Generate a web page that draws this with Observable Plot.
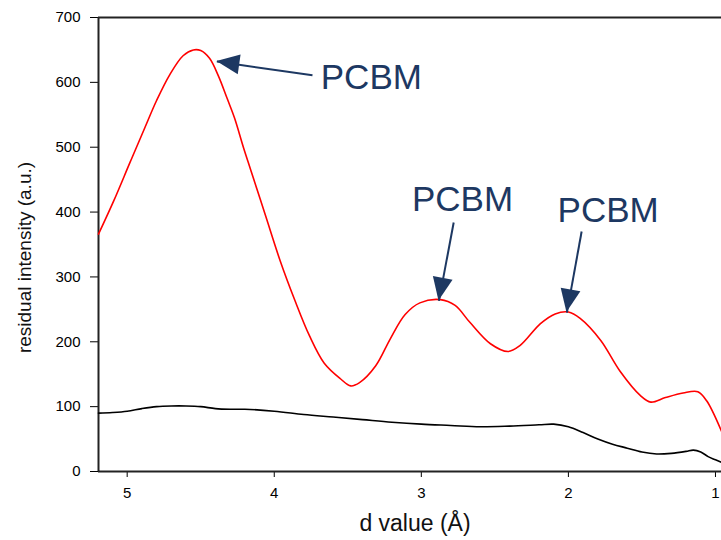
<!DOCTYPE html>
<html>
<head>
<meta charset="utf-8">
<script src="https://cdn.jsdelivr.net/npm/d3@7"></script>
<script src="https://cdn.jsdelivr.net/npm/@observablehq/plot@0.6"></script>
<style>
  html, body { margin: 0; padding: 0; background: #fff; }
  #chart svg { display: block; }
</style>
</head>
<body>
<div id="chart"></div>
<script>
// ---- data ----
const redD = [5.195, 5.09, 4.98, 4.88, 4.80, 4.71, 4.62, 4.55, 4.50, 4.44, 4.38, 4.32, 4.27, 4.21, 4.16, 4.06, 3.96, 3.86, 3.76, 3.66, 3.55, 3.48, 3.42, 3.31, 3.21, 3.11, 3.01, 2.87, 2.77, 2.67, 2.53, 2.41, 2.33, 2.19, 2.09, 2.00, 1.92, 1.78, 1.65, 1.51, 1.44, 1.34, 1.22, 1.12, 1.06, 0.959];
const redI = [366, 418, 477, 530, 572, 612, 641, 650, 649, 637, 610, 575, 545, 500, 465, 395, 325, 264, 209, 167, 143, 132, 137, 163, 205, 242, 260, 265, 256, 230, 197, 185, 194, 228, 243, 246, 236, 202, 155, 117, 107, 114, 121, 123, 109, 62];

const blackD = [5.195, 5.1, 5.0, 4.9, 4.8, 4.7, 4.6, 4.5, 4.4, 4.3, 4.2, 4.0, 3.8, 3.6, 3.4, 3.2, 3.0, 2.8, 2.6, 2.4, 2.2, 2.1, 2.0, 1.9, 1.8, 1.7, 1.6, 1.5, 1.4, 1.3, 1.2, 1.15, 1.1, 1.05, 1.0, 0.959];
const blackI = [90, 91, 93, 97, 100, 101, 101, 100, 97, 96, 96, 93, 88, 84, 80, 76, 73, 71, 69, 70, 72, 73, 69, 60, 50, 42, 36, 30, 27, 28, 31, 33, 30, 23, 18, 14];

const xTicks = [5, 4, 3, 2, 1];
const yTicks = [0, 100, 200, 300, 400, 500, 600, 700];
const xDomain = [5.195, 0.959];
const yDomain = [0, 700];

const xLabel = "d value (Å)";
const yLabel = "residual intensity (a.u.)";

// annotations
const noteText = ["PCBM", "PCBM", "PCBM"];
const noteX = [3.34, 2.72, 1.73];
const noteY = [607, 419, 402];
const arrowFromX = [3.74, 2.78, 1.91];
const arrowFromY = [611, 384, 370];
const arrowToX = [4.39, 2.88, 2.01];
const arrowToY = [632, 263, 245];

// ---- tables built from the arrays ----
const red = redD.map((d, i) => ({d, v: redI[i]}));
const black = blackD.map((d, i) => ({d, v: blackI[i]}));
const notes = noteText.map((t, i) => ({t, x: noteX[i], y: noteY[i]}));
const arrows = arrowFromX.map((x1, i) => ({x1, y1: arrowFromY[i], x2: arrowToX[i], y2: arrowToY[i]}));

const navy = "#1d3862";
const font = "'Liberation Sans', Arial, Helvetica, sans-serif";

function arrowHeads(index, scales) {
  const g = d3.create("svg:g").attr("aria-label", "arrow heads");
  const sx = scales.x, sy = scales.y;
  const L = 23, hw = 10;
  arrows.forEach(a => {
    const x1 = sx(a.x1), y1 = sy(a.y1), x2 = sx(a.x2), y2 = sy(a.y2);
    const len = Math.hypot(x2 - x1, y2 - y1);
    const ux = (x2 - x1) / len, uy = (y2 - y1) / len;
    const bx = x2 - ux * L, by = y2 - uy * L;
    const nx = -uy, ny = ux;
    g.append("path")
      .attr("d", `M${x2},${y2}L${bx + nx * hw},${by + ny * hw}L${bx - nx * hw},${by - ny * hw}Z`)
      .attr("fill", navy);
  });
  return g.node();
}

const chart = Plot.plot({
  width: 721,
  height: 540,
  marginLeft: 98,
  marginRight: 0,
  marginTop: 17,
  marginBottom: 69,
  style: {fontFamily: font, fontSize: "15px", color: "#000", background: "#fff"},
  x: {domain: xDomain, ticks: xTicks, tickSize: 6, tickPadding: 10, label: null, tickFormat: d3.format("d")},
  y: {domain: yDomain, ticks: yTicks, tickSize: 8, tickPadding: 10, label: null, tickFormat: d3.format("d")},
  marks: [
    Plot.ruleY([yDomain[0], yDomain[1]], {stroke: "#222", strokeWidth: 2}),
    Plot.ruleX([xDomain[0]], {stroke: "#222", strokeWidth: 2}),
    Plot.line(black, {x: "d", y: "v", stroke: "#000", strokeWidth: 1.6, curve: "catmull-rom"}),
    Plot.line(red, {x: "d", y: "v", stroke: "#ff0000", strokeWidth: 1.6, curve: "catmull-rom"}),
    Plot.link(arrows, {x1: "x1", y1: "y1", x2: "x2", y2: "y2", stroke: navy, strokeWidth: 2}),
    arrowHeads,
    Plot.text(notes, {x: "x", y: "y", text: "t", fill: navy, fontSize: 35, fontFamily: font, textAnchor: "middle", lineAnchor: "middle"}),
    Plot.text([yLabel], {text: d => d, frameAnchor: "left", rotate: -90, dx: -74, dy: 13, fontSize: 19, fill: "#111", textAnchor: "middle", lineAnchor: "middle"}),
    Plot.text([xLabel], {text: d => d, frameAnchor: "bottom", dx: 5, dy: 52, fontSize: 23, fill: "#111", textAnchor: "middle", lineAnchor: "middle"})
  ]
});
document.getElementById("chart").appendChild(chart);
</script>
</body>
</html>
